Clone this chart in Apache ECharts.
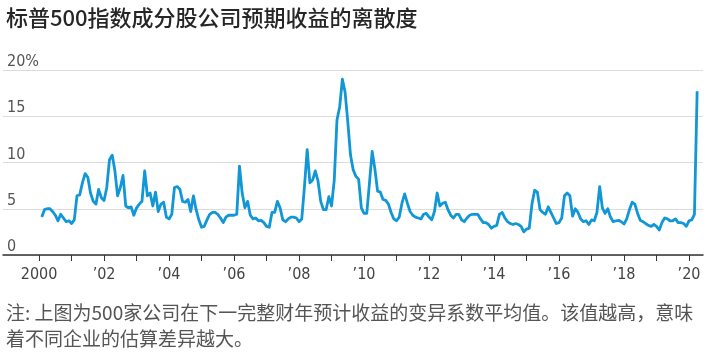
<!DOCTYPE html>
<html>
<head>
<meta charset="utf-8">
<script src="https://cdn.jsdelivr.net/npm/echarts@6/dist/echarts.min.js"></script>
<style>
  html, body { margin: 0; padding: 0; background: #fff; }
  #chart { width: 722px; height: 355px; }
</style>
</head>
<body>
<div id="chart"></div>
<script>
// 标普500成分股预期收益离散度（月度，%），2000-01 起
const startYear = 2000
const dispersion = [
  4.1, 4.9, 5.0, 5.0, 4.7, 4.3, 3.7, 4.4, 4.0, 3.6, 3.7, 3.4,      // 2000
  3.8, 6.4, 6.5, 7.8, 8.8, 8.4, 6.7, 5.8, 5.5, 7.1, 6.2, 5.9,      // 2001
  7.3, 10.3, 10.8, 9.1, 6.4, 7.3, 8.6, 5.3, 5.1, 5.2, 4.3, 5.1,    // 2002
  5.5, 5.8, 9.1, 6.4, 6.7, 5.3, 6.8, 4.7, 5.5, 5.7, 4.1, 3.9,      // 2003
  4.4, 7.3, 7.4, 7.1, 5.8, 5.7, 6.0, 4.7, 6.4, 4.9, 3.8, 3.0,      // 2004
  3.1, 3.8, 4.4, 4.6, 4.6, 4.4, 4.0, 3.5, 4.1, 4.3, 4.3, 4.3,      // 2005
  4.4, 9.6, 6.7, 5.1, 5.8, 4.3, 3.9, 4.0, 3.7, 3.75, 3.5, 3.1,     // 2006
  3.0, 4.6, 4.6, 5.8, 5.1, 3.8, 3.6, 3.9, 4.1, 4.1, 4.0, 3.6,      // 2007
  3.9, 7.4, 11.4, 7.8, 8.1, 9.1, 8.0, 5.8, 4.9, 4.9, 6.3, 5.3,     // 2008
  8.1, 14.6, 16.0, 19.0, 17.6, 14.4, 10.8, 9.2, 8.5, 8.2, 5.1, 4.5, // 2009
  4.5, 7.8, 11.2, 9.3, 6.9, 6.8, 6.0, 5.9, 5.5, 4.6, 3.9, 3.7,     // 2010
  4.1, 5.6, 6.6, 5.6, 4.7, 4.3, 4.1, 4.0, 3.9, 4.4, 4.5, 4.1,      // 2011
  3.8, 4.7, 6.7, 5.3, 5.6, 5.7, 4.9, 4.3, 4.0, 4.4, 4.4, 3.8,      // 2012
  3.6, 4.0, 4.3, 4.4, 4.4, 4.4, 3.9, 3.5, 3.5, 3.3, 2.9, 3.1,      // 2013
  3.2, 4.4, 4.6, 4.0, 3.6, 3.4, 3.3, 3.4, 3.3, 3.1, 2.5, 2.8,      // 2014
  2.9, 5.5, 7.0, 6.8, 4.9, 4.6, 4.4, 5.2, 4.6, 4.0, 3.4, 3.5,      // 2015
  4.0, 6.4, 6.7, 6.4, 4.2, 5.0, 4.6, 3.9, 3.6, 3.7, 3.3, 3.8,      // 2016
  3.7, 4.6, 7.4, 5.1, 4.5, 5.0, 4.1, 3.6, 3.7, 3.75, 3.6, 3.35,    // 2017
  3.9, 4.9, 5.7, 5.5, 4.5, 3.75, 3.6, 3.4, 3.2, 3.1, 3.3, 3.1,     // 2018
  2.7, 3.5, 4.0, 3.9, 3.7, 3.7, 3.9, 3.5, 3.5, 3.4, 3.1, 3.7,      // 2019
  3.8, 4.4, 17.7                                                   // 2020
]
const tickYears = [2000, 2001, 2002, 2003, 2004, 2005, 2006, 2007, 2008, 2009, 2010,
  2011, 2012, 2013, 2014, 2015, 2016, 2017, 2018, 2019, 2020]
const labelYears = [2000, 2002, 2004, 2006, 2008, 2010, 2012, 2014, 2016, 2018, 2020]
const yTicks = [0, 5, 10, 15, 20]

const titleText = '标普500指数成分股公司预期收益的离散度'
const noteText = '注: 上图为500家公司在下一完整财年预计收益的变异系数平均值。该值越高，意味\n着不同企业的估算差异越大。'

const narrowFont = '"Liberation Sans Narrow", "DejaVu Sans Condensed", "Roboto", sans-serif'
const cjkFont = '"Noto Sans CJK SC", "Noto Sans", sans-serif'

const chart = echarts.init(document.getElementById('chart'))

const options = {
  animation: false,
  title: [
    {
      text: titleText,
      left: 1,
      top: 2,
      textStyle: {
        fontFamily: cjkFont,
        fontSize: 22,
        fontWeight: 500,
        color: '#262626',
      },
    },
    {
      text: noteText,
      left: 1,
      top: 295,
      textStyle: {
        fontFamily: cjkFont,
        fontSize: 19,
        fontWeight: 'normal',
        lineHeight: 26,
        color: '#555',
      },
    },
  ],
  grid: {
    left: 3,
    right: 19,
    top: 70,
    bottom: 100,
    containLabel: false,
  },
  xAxis: {
    type: 'value',
    min: 1998.89,
    max: 2020.43,
    axisLine: {
      show: true,
      onZero: false,
      lineStyle: { color: '#333', width: 1.5 },
    },
    axisTick: {
      show: true,
      length: 6,
      customValues: tickYears,
      lineStyle: { color: '#333', width: 1 },
    },
    axisLabel: {
      customValues: labelYears,
      margin: 12,
      fontFamily: narrowFont,
      fontSize: 16,
      color: '#444',
      formatter: (v) => (v === 2000 ? '2000' : '\u2019' + String(v).slice(2)),
    },
    splitLine: { show: false },
  },
  yAxis: {
    type: 'value',
    min: 0,
    max: 20,
    interval: 5,
    axisLine: { show: false },
    axisTick: { show: false },
    axisLabel: {
      inside: true,
      margin: 4,
      verticalAlign: 'bottom',
      fontFamily: narrowFont,
      fontSize: 16,
      color: '#555',
      customValues: yTicks,
      formatter: (v) => (v === 20 ? '20%' : String(v)),
    },
    splitLine: {
      show: true,
      lineStyle: { color: '#dcdcdc', width: 1 },
    },
  },
  series: [
    {
      type: 'line',
      data: dispersion.map((v, i) => [startYear + (i + 1) / 12, v]),
      showSymbol: false,
      lineStyle: { color: '#1196d6', width: 2.8, join: 'round' },
      z: 3,
    },
  ],
}
options && chart.setOption(options)
</script>
</body>
</html>
